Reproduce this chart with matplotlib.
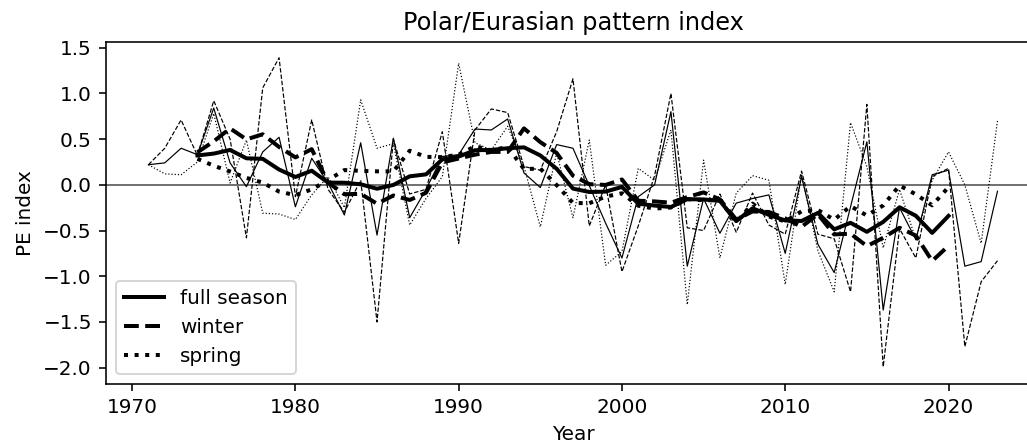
import matplotlib
matplotlib.use("Agg")
from matplotlib import pyplot as plt
import numpy as np
import pandas as pd

years = list(range(1971, 2024))

full_season = [0.22, 0.24, 0.40, 0.33, 0.84, 0.24, -0.02, 0.36, 0.52, -0.24,
               0.29, 0.02, -0.33, 0.46, -0.55, 0.51, -0.36, -0.05, 0.31, 0.33,
               0.61, 0.60, 0.72, 0.13, -0.03, 0.44, 0.40, -0.01, -0.42, -0.80,
               -0.13, 0.00, 0.80, -0.89, -0.15, -0.53, -0.20, -0.15, -0.11, -0.75,
               0.09, -0.65, -0.96, -0.24, 0.47, -1.37, -0.25, -0.60, 0.11, 0.16,
               -0.89, -0.84, -0.07]

winter = [0.22, 0.40, 0.71, 0.32, 0.92, 0.50, -0.58, 1.06, 1.39, -0.13,
          0.71, -0.05, -0.30, 0.05, -1.50, 0.50, -0.10, -0.05, 0.58, -0.64,
          0.60, 0.83, 0.79, 0.20, 0.16, 0.58, 1.16, -0.45, 0.00, -0.95,
          -0.45, 0.10, 1.00, -0.47, -0.50, -0.10, -0.52, -0.09, -0.44, -0.54,
          0.15, -0.54, -0.59, -1.17, 0.88, -1.99, -0.48, -0.80, 0.09, 0.18,
          -1.77, -1.06, -0.83]

spring = [0.22, 0.12, 0.11, 0.25, 0.78, 0.02, 0.49, -0.31, -0.32, -0.38,
          -0.11, 0.09, -0.25, 0.93, 0.40, 0.45, -0.44, -0.15, 0.09, 1.33,
          0.46, 0.38, 0.64, 0.20, -0.46, 0.35, -0.36, 0.49, -0.88, -0.73,
          0.18, 0.05, 0.60, -1.31, 0.27, -0.80, -0.09, 0.10, 0.05, -1.09,
          0.12, -0.72, -1.17, 0.68, 0.20, -0.69, -0.05, -0.60, 0.05, 0.36,
          0.00, -0.64, 0.70]

series = [("full season", full_season, "-"),
          ("winter", winter, "--"),
          ("spring", spring, ":")]

df = pd.DataFrame({name: vals for name, vals, _ in series}, index=years)
smooth = df.rolling(7, center=True).mean()

fig = plt.figure(figsize=(1027 / 144, 448 / 144), dpi=144)
ax = fig.add_axes([0.1032, 0.1422, 0.9094, 0.7634])

ax.axhline(0, color="0.45", lw=1.0, zorder=1)
for name, vals, ls in series:
    ax.plot(df.index, df[name], color="k", ls=ls, lw=0.6)
for name, vals, ls in series:
    ax.plot(smooth.index, smooth[name], color="k", ls=ls, lw=2, label=name)

ax.set_xlim(1968.4, 2025.6)
ax.set_ylim(-2.182, 1.559)
ax.set_xlabel("Year")
ax.set_ylabel("PE index")
ax.set_title("Polar/Eurasian pattern index")
ax.legend(loc="lower left")

fig.savefig("out.png", dpi=144)
